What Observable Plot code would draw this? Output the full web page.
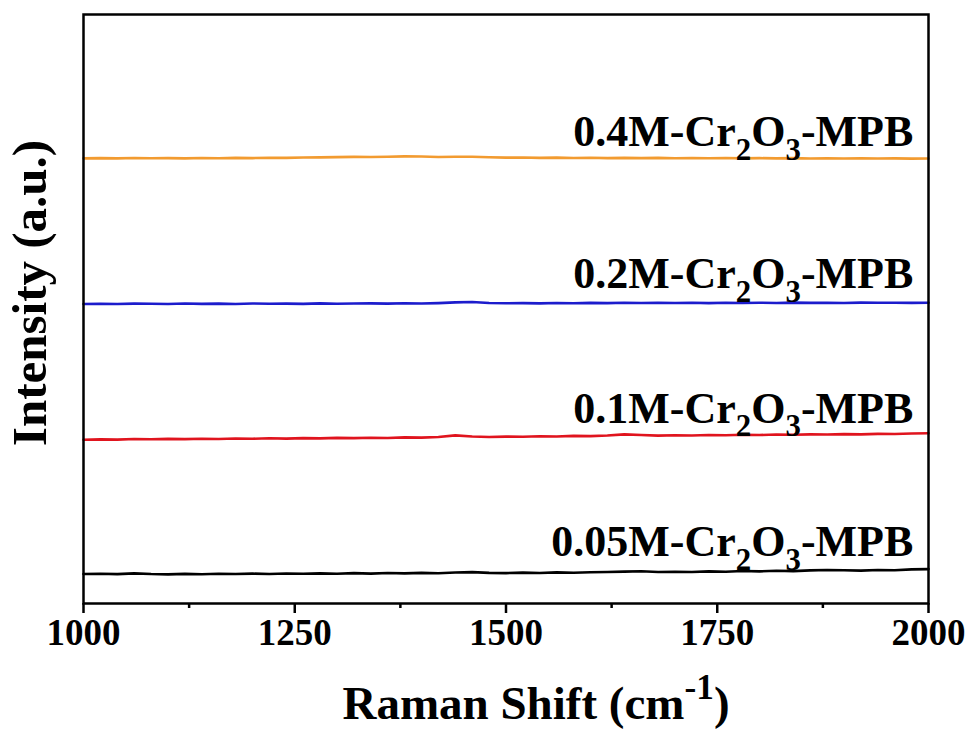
<!DOCTYPE html>
<html>
<head>
<meta charset="utf-8">
<script src="https://cdn.jsdelivr.net/npm/d3@7"></script>
<script src="https://cdn.jsdelivr.net/npm/@observablehq/plot@0.6"></script>
<style>
  html, body { margin: 0; padding: 0; background: #fff; }
  #chart svg { display: block; }
</style>
</head>
<body>
<div id="chart"></div>
<script>
// Raman shift (cm-1), sampled every 20 cm-1
const shift = [1000,1020,1040,1060,1080,1100,1120,1140,1160,1180,1200,1220,1240,1260,1280,1300,1320,1340,1360,1380,1400,1420,1440,1460,1480,1500,1520,1540,1560,1580,1600,1620,1640,1660,1680,1700,1720,1740,1760,1780,1800,1820,1840,1860,1880,1900,1920,1940,1960,1980,2000];

// Intensities (a.u., stacked offsets)
const s005 = [5.02,5.05,4.98,5.12,5.00,4.95,5.03,4.97,5.06,5.01,5.08,5.00,5.10,5.04,5.12,5.06,5.15,5.08,5.18,5.12,5.20,5.14,5.26,5.32,5.20,5.16,5.24,5.18,5.28,5.22,5.30,5.34,5.42,5.48,5.36,5.40,5.34,5.46,5.40,5.52,5.46,5.56,5.50,5.62,5.70,5.64,5.58,5.68,5.64,5.80,5.84];
const s01 = [27.80,27.86,27.82,27.92,27.88,27.95,27.90,27.98,27.93,28.02,27.97,28.05,28.00,28.08,28.03,28.12,28.08,28.15,28.10,28.20,28.16,28.28,28.55,28.36,28.28,28.34,28.30,28.40,28.36,28.46,28.42,28.52,28.72,28.60,28.50,28.56,28.52,28.60,28.56,28.64,28.60,28.68,28.64,28.72,28.68,28.76,28.72,28.80,28.78,28.86,28.90];
const s02 = [50.86,50.90,50.84,50.92,50.88,50.86,50.93,50.87,50.91,50.86,50.94,50.89,50.92,50.87,50.95,50.90,50.93,50.96,50.91,50.97,50.94,51.00,51.12,51.18,51.02,50.97,51.00,50.95,51.02,50.98,51.04,50.99,51.05,51.01,51.06,51.02,51.05,51.00,51.07,51.03,51.06,51.02,51.08,51.04,51.07,51.03,51.08,51.05,51.07,51.04,51.06];
const s04 = [75.58,75.62,75.57,75.63,75.59,75.61,75.58,75.64,75.60,75.66,75.62,75.68,75.66,75.72,75.74,75.78,75.82,75.80,75.86,75.92,75.88,75.80,75.84,75.86,75.76,75.70,75.72,75.66,75.70,75.64,75.68,75.62,75.66,75.61,75.65,75.60,75.64,75.59,75.63,75.58,75.62,75.57,75.61,75.56,75.60,75.55,75.59,75.54,75.58,75.53,75.56];

const seriesNames = ["0.05M", "0.1M", "0.2M", "0.4M"];
const seriesColors = ["#000000", "#e0141e", "#1c1ccc", "#f29b30"];
const labelY = [8.0, 30.7, 53.5, 77.6];
const labelX = 1982;

const xTicks = [1000, 1250, 1500, 1750, 2000];
const xMinorTicks = [1125, 1375, 1625, 1875];

const allSeries = [s005, s01, s02, s04];
const rows = [];
allSeries.forEach((vals, k) => {
  vals.forEach((v, i) => rows.push({shift: shift[i], intensity: v, series: seriesNames[k]}));
});
const labels = seriesNames.map((n, k) => ({name: n + "-Cr2O3-MPB", x: labelX, y: labelY[k]}));

const FONT = "'Liberation Serif', 'Times New Roman', serif";

const plot = Plot.plot({
  width: 970,
  height: 731,
  marginLeft: 83,
  marginRight: 42,
  marginTop: 14,
  marginBottom: 128,
  style: {fontFamily: FONT, fontWeight: "bold", color: "#000", background: "#fff"},
  x: {domain: [1000, 2000]},
  y: {domain: [0, 100], axis: null},
  color: {domain: seriesNames, range: seriesColors},
  marks: [
    Plot.line(rows, {x: "shift", y: "intensity", z: "series", stroke: "series", strokeWidth: 2.6, curve: "linear"}),
    Plot.text(labels, {x: "x", y: "y", text: "name", textAnchor: "end", lineAnchor: "bottom", fontSize: 44, fill: "#000"}),
    Plot.axisX({ticks: xTicks, tickSize: 10, tickPadding: 5, fontSize: 37, strokeWidth: 2.5, label: null, tickFormat: d => String(d)}),
    Plot.axisX({ticks: xMinorTicks, tickSize: 5, strokeWidth: 2.5, label: null, text: null}),
    Plot.frame({stroke: "#000", strokeWidth: 2.5}),
    Plot.text(["Raman Shift (cm-1)"], {frameAnchor: "bottom", dy: 100, dx: 30, fontSize: 47, textAnchor: "middle", lineAnchor: "middle", fill: "#000"}),
    Plot.text(["Intensity (a.u.)"], {frameAnchor: "left", dx: -53, dy: -16, rotate: -90, fontSize: 49, textAnchor: "middle", lineAnchor: "middle", fill: "#000"})
  ]
});

document.getElementById("chart").appendChild(plot);

// Rich text: subscripts / superscripts
function rich(textEl, parts, fs, scale) {
  const t = d3.select(textEl);
  t.text(null);
  let offset = 0;
  parts.forEach(([str, mode]) => {
    const target = mode === 1 ? fs * 0.3 : mode === -1 ? -fs * 0.42 : 0;
    const ts = t.append("tspan").text(str).attr("dy", target - offset);
    if (mode !== 0) ts.attr("font-size", fs * scale);
    offset = target;
  });
}
d3.select(plot).selectAll("text").each(function() {
  const s = this.textContent;
  const m = s.match(/^(.*)-Cr2O3-MPB$/);
  if (m) {
    rich(this, [[m[1] + "-Cr", 0], ["2", 1], ["O", 0], ["3", 1], ["-MPB", 0]], 44, 0.7);
  } else if (s === "Raman Shift (cm-1)") {
    rich(this, [["Raman Shift (cm", 0], ["-1", -1], [")", 0]], 47, 0.75);
  }
});
</script>
</body>
</html>
